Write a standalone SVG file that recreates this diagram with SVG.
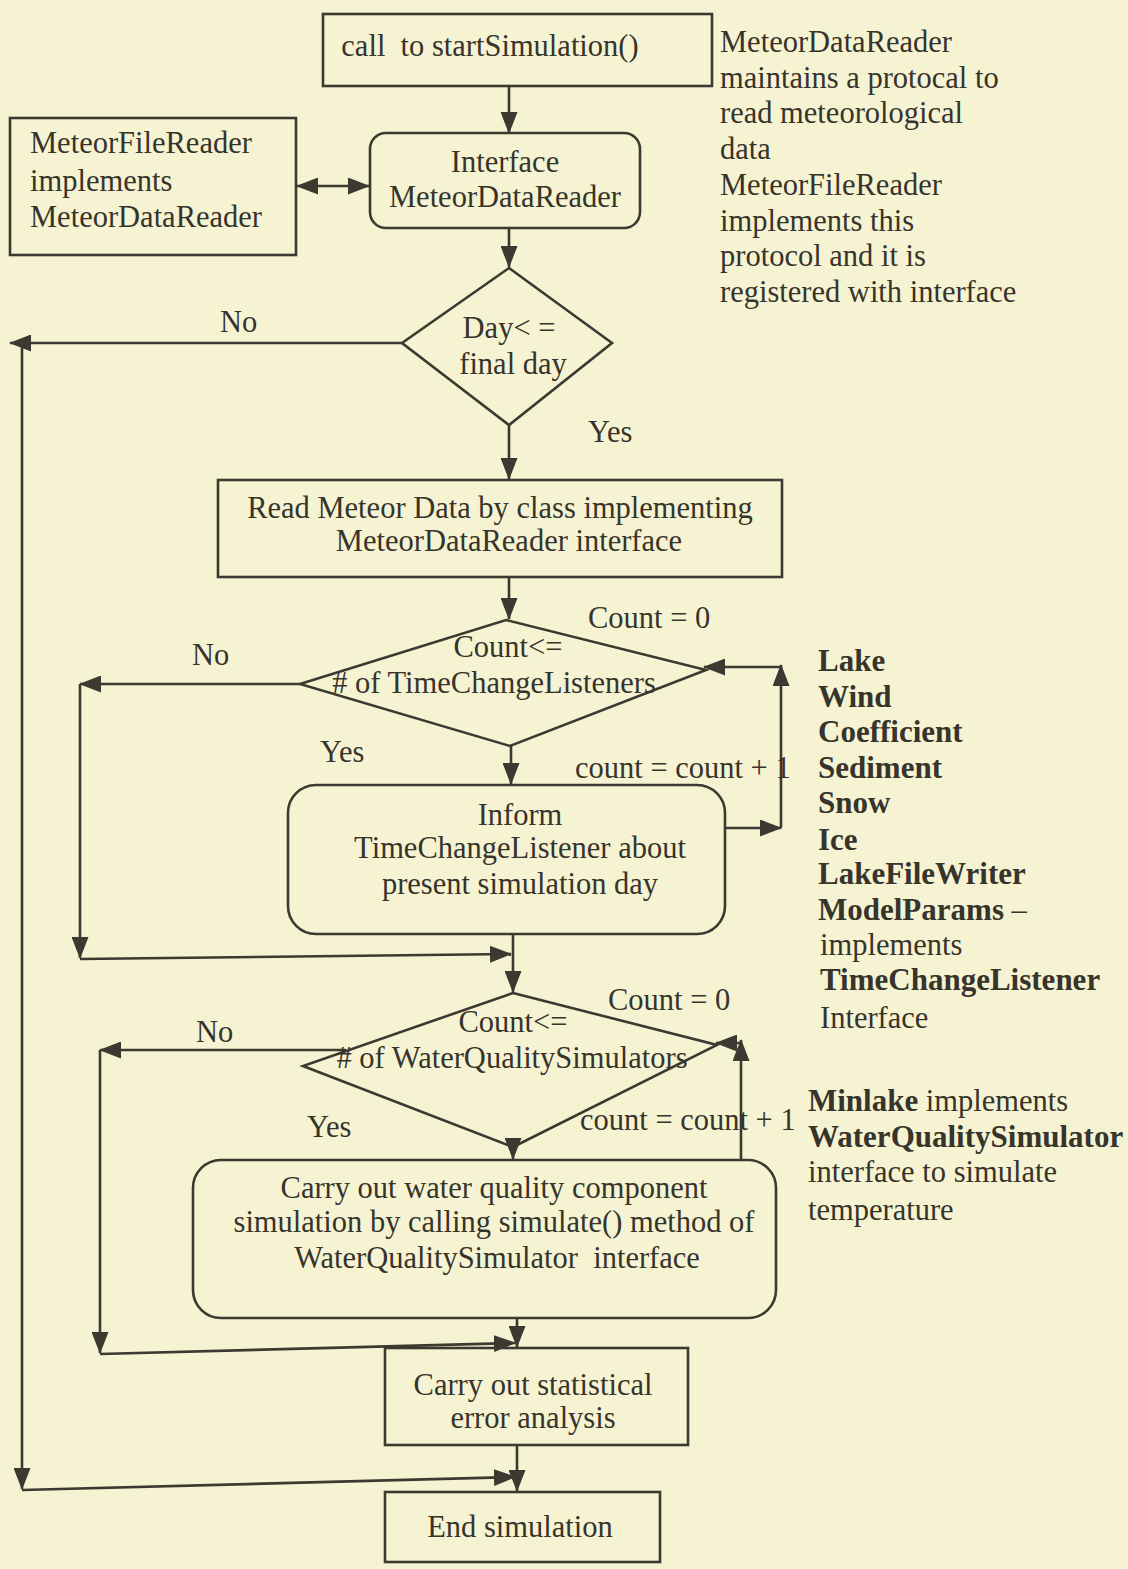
<svg xmlns="http://www.w3.org/2000/svg" width="1128" height="1569" viewBox="0 0 1128 1569">
  <style>
    .bg { fill: #f6f3d3; }
    .box { fill: none; stroke: #3c3a30; stroke-width: 2.6; }
    .edge { fill: none; stroke: #3c3a30; stroke-width: 2.6; }
    text { font-family: "Liberation Serif", "Times New Roman", serif; font-size: 30.5px; fill: #36342b; }
    .c { text-anchor: middle; }
    .b { font-weight: bold; font-size: 31px; }
  </style>
  <defs>
    <marker id="arrow" viewBox="0 0 22 17" refX="21" refY="8.5" markerWidth="22" markerHeight="17" markerUnits="userSpaceOnUse" orient="auto-start-reverse">
      <path d="M0,0 L22,8.5 L0,17 Z" fill="#3c3a30"/>
    </marker>
  </defs>

  <rect class="bg" x="0" y="0" width="1128" height="1569"/>

  <!-- connectors -->
  <g id="connectors">
    <path class="edge" d="M509,86 V133" marker-end="url(#arrow)"/>
    <path class="edge" d="M297,186 H369" marker-start="url(#arrow)" marker-end="url(#arrow)"/>
    <path class="edge" d="M509,228 V267" marker-end="url(#arrow)"/>
    <!-- day loop exit -->
    <path class="edge" d="M402,343 H10" marker-end="url(#arrow)"/>
    <path class="edge" d="M22,343 V1489" marker-end="url(#arrow)"/>
    <path class="edge" d="M22,1490 L515,1477" marker-end="url(#arrow)"/>
    <path class="edge" d="M509,425 V479" marker-end="url(#arrow)"/>
    <path class="edge" d="M509,577 V619" marker-end="url(#arrow)"/>
    <!-- listeners loop -->
    <path class="edge" d="M300,684 H80" marker-end="url(#arrow)"/>
    <path class="edge" d="M80,684 V958" marker-end="url(#arrow)"/>
    <path class="edge" d="M80,959 L511,954" marker-end="url(#arrow)"/>
    <path class="edge" d="M511,746 V784" marker-end="url(#arrow)"/>
    <path class="edge" d="M725,828 H781" marker-end="url(#arrow)"/>
    <path class="edge" d="M781,828 V665" marker-end="url(#arrow)"/>
    <path class="edge" d="M781,667 H704" marker-end="url(#arrow)"/>
    <path class="edge" d="M513,934 V992" marker-end="url(#arrow)"/>
    <!-- simulators loop -->
    <path class="edge" d="M346,1050 H100" marker-end="url(#arrow)"/>
    <path class="edge" d="M100,1050 V1353" marker-end="url(#arrow)"/>
    <path class="edge" d="M100,1354 L515,1343" marker-end="url(#arrow)"/>
    <path class="edge" d="M513,1147 V1159" marker-end="url(#arrow)"/>
    <path class="edge" d="M741,1160 V1040" marker-end="url(#arrow)"/>
    <path class="edge" d="M741,1043 H716" marker-end="url(#arrow)"/>
    <path class="edge" d="M517,1318 V1347" marker-end="url(#arrow)"/>
    <path class="edge" d="M517,1445 V1491" marker-end="url(#arrow)"/>
  </g>

  <!-- nodes -->
  <g id="start">
    <rect class="box" x="323" y="14" width="389" height="72"/>
    <text class="c" x="490" y="56" xml:space="preserve">call  to startSimulation()</text>
  </g>

  <g id="meteor-file-reader">
    <rect class="box" x="10" y="118" width="286" height="137"/>
    <text x="30" y="153">MeteorFileReader</text>
    <text x="30" y="191">implements</text>
    <text x="30" y="227">MeteorDataReader</text>
  </g>

  <g id="interface">
    <rect class="box" x="370" y="133" width="270" height="95" rx="16"/>
    <text class="c" x="505" y="172">Interface</text>
    <text class="c" x="505" y="207">MeteorDataReader</text>
  </g>

  <g id="day-check">
    <polygon class="box" points="509,268 612,343 509,425 402,343"/>
    <text class="c" x="509" y="338">Day&lt; =</text>
    <text class="c" x="513" y="374">final day</text>
    <text x="220" y="332">No</text>
    <text x="588" y="442">Yes</text>
  </g>

  <g id="read-meteor">
    <rect class="box" x="218" y="480" width="564" height="97"/>
    <text class="c" x="500" y="518">Read Meteor Data by class implementing</text>
    <text class="c" x="509" y="551">MeteorDataReader interface</text>
  </g>

  <g id="listener-check">
    <polygon class="box" points="506,620 706,670 510,746 300,684"/>
    <text class="c" x="508" y="657">Count&lt;=</text>
    <text class="c" x="494" y="693"># of TimeChangeListeners</text>
    <text x="588" y="628">Count = 0</text>
    <text x="192" y="665">No</text>
    <text x="320" y="762">Yes</text>
    <text x="575" y="778">count = count + 1</text>
  </g>

  <g id="inform">
    <rect class="box" x="288" y="785" width="437" height="149" rx="28"/>
    <text class="c" x="520" y="825">Inform</text>
    <text class="c" x="520" y="858">TimeChangeListener about</text>
    <text class="c" x="520" y="894">present simulation day</text>
  </g>

  <g id="simulator-check">
    <polygon class="box" points="513,993 717,1045 513,1147 303,1066"/>
    <text class="c" x="513" y="1032">Count&lt;=</text>
    <text class="c" x="512" y="1068"># of WaterQualitySimulators</text>
    <text x="608" y="1010">Count = 0</text>
    <text x="196" y="1042">No</text>
    <text x="307" y="1137">Yes</text>
    <text x="580" y="1130">count = count + 1</text>
  </g>

  <g id="simulate">
    <rect class="box" x="193" y="1160" width="583" height="158" rx="28"/>
    <text class="c" x="494" y="1198">Carry out water quality component</text>
    <text class="c" x="494" y="1232">simulation by calling simulate() method of</text>
    <text class="c" x="497" y="1268" xml:space="preserve">WaterQualitySimulator  interface</text>
  </g>

  <g id="error-analysis">
    <rect class="box" x="385" y="1348" width="303" height="97"/>
    <text class="c" x="533" y="1395">Carry out statistical</text>
    <text class="c" x="533" y="1428">error analysis</text>
  </g>

  <g id="end">
    <rect class="box" x="385" y="1492" width="275" height="70"/>
    <text class="c" x="520" y="1537">End simulation</text>
  </g>

  <!-- side notes -->
  <g id="note-reader">
    <text x="720" y="52">MeteorDataReader</text>
    <text x="720" y="88">maintains a protocal to</text>
    <text x="720" y="123">read meteorological</text>
    <text x="720" y="159">data</text>
    <text x="720" y="195">MeteorFileReader</text>
    <text x="720" y="231">implements this</text>
    <text x="720" y="266">protocol and it is</text>
    <text x="720" y="302">registered with interface</text>
  </g>

  <g id="note-listeners">
    <text class="b" x="818" y="671">Lake</text>
    <text class="b" x="818" y="707">Wind</text>
    <text class="b" x="818" y="742">Coefficient</text>
    <text class="b" x="818" y="778">Sediment</text>
    <text class="b" x="818" y="813">Snow</text>
    <text class="b" x="818" y="850">Ice</text>
    <text class="b" x="818" y="884">LakeFileWriter</text>
    <text x="818" y="920"><tspan class="b">ModelParams</tspan> –</text>
    <text x="820" y="955">implements</text>
    <text class="b" x="820" y="990">TimeChangeListener</text>
    <text x="820" y="1028">Interface</text>
  </g>

  <g id="note-simulator">
    <text x="808" y="1111"><tspan class="b">Minlake</tspan> implements</text>
    <text class="b" x="808" y="1147">WaterQualitySimulator</text>
    <text x="808" y="1182">interface to simulate</text>
    <text x="808" y="1220">temperature</text>
  </g>
</svg>
